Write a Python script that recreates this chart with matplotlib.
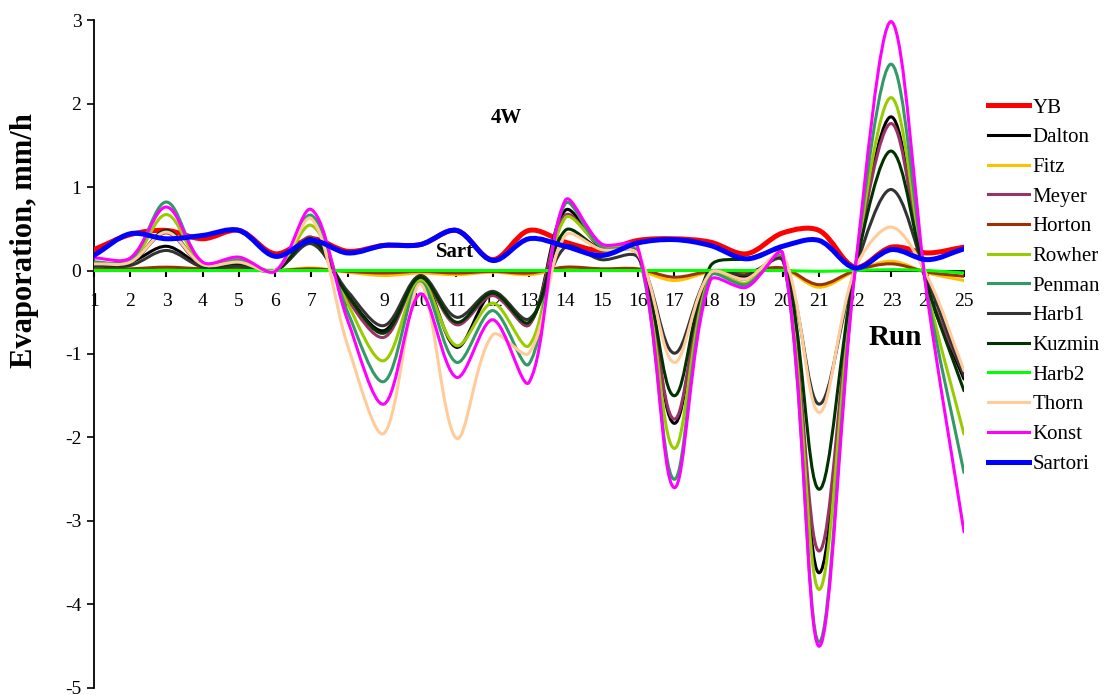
import numpy as np
import matplotlib
matplotlib.use("Agg")
import matplotlib.pyplot as plt
from matplotlib.path import Path
from matplotlib.patches import PathPatch
from matplotlib.lines import Line2D

plt.rcParams['font.family'] = ['Liberation Serif', 'DejaVu Serif']
plt.rcParams['axes.unicode_minus'] = False

# runs 1..25
runs = list(range(1, 26))

YB = [0.25, 0.43, 0.48, 0.38, 0.48, 0.20, 0.38, 0.23, 0.30, 0.31, 0.48, 0.13, 0.48,
      0.34, 0.24, 0.36, 0.38, 0.34, 0.20, 0.45, 0.48, 0.04, 0.28, 0.21, 0.28]
Dalton = [0.07, 0.10, 0.29, 0.06, 0.08, 0.00, 0.35, -0.30, -0.72, -0.08, -0.92, -0.27, -0.65,
          0.72, 0.27, 0.20, -1.83, -0.05, -0.08, 0.15, -3.62, 0.02, 1.84, -0.22, -1.30]
Fitz = [0.01, 0.01, 0.02, 0.01, 0.01, 0.00, 0.03, -0.02, -0.06, -0.03, -0.05, -0.02, -0.05,
        0.02, 0.01, 0.00, -0.12, -0.02, -0.02, 0.02, -0.20, -0.01, 0.11, -0.03, -0.12]
Meyer = [0.08, 0.10, 0.45, 0.06, 0.10, 0.00, 0.40, -0.35, -0.80, -0.10, -0.65, -0.30, -0.65,
         0.66, 0.28, 0.20, -1.78, -0.05, -0.10, 0.15, -3.36, 0.02, 1.76, -0.20, -1.25]
Horton = [0.01, 0.02, 0.04, 0.02, 0.02, 0.00, 0.02, -0.01, -0.03, -0.01, -0.03, -0.01, -0.03,
          0.04, 0.02, 0.02, -0.08, -0.01, -0.01, 0.03, -0.17, 0.00, 0.08, -0.02, -0.07]
Rowher = [0.10, 0.10, 0.67, 0.07, 0.13, 0.00, 0.54, -0.40, -1.08, -0.12, -0.90, -0.39, -0.90,
          0.63, 0.30, 0.22, -2.13, -0.06, -0.15, 0.17, -3.82, 0.02, 2.07, -0.25, -1.96]
Penman = [0.10, 0.12, 0.82, 0.08, 0.12, 0.00, 0.66, -0.50, -1.33, -0.15, -1.10, -0.48, -1.12,
          0.80, 0.28, 0.22, -2.50, -0.07, -0.17, 0.18, -4.45, 0.02, 2.47, -0.30, -2.42]
Harb1 = [0.05, 0.06, 0.24, 0.04, 0.05, 0.00, 0.32, -0.25, -0.66, -0.06, -0.56, -0.25, -0.58,
         0.28, 0.13, 0.16, -0.99, -0.03, -0.05, 0.12, -1.60, 0.02, 0.97, -0.12, -1.26]
Kuzmin = [0.08, 0.09, 0.48, 0.06, 0.09, 0.00, 0.38, -0.30, -0.75, -0.08, -0.62, -0.27, -0.62,
          0.48, 0.25, 0.20, -1.50, 0.05, 0.14, 0.20, -2.62, 0.02, 1.43, -0.20, -1.44]
Harb2 = [0.00, 0.00, 0.00, 0.00, 0.00, 0.00, 0.00, 0.00, 0.00, 0.00, 0.00, 0.00, 0.00,
         0.00, 0.00, 0.00, 0.00, 0.00, 0.00, 0.00, -0.01, 0.00, 0.01, 0.00, -0.03]
Thorn = [0.08, 0.10, 0.46, 0.07, 0.10, 0.00, 0.62, -0.90, -1.95, -0.16, -2.01, -0.77, -0.99,
         0.42, 0.25, 0.20, -1.10, -0.03, -0.10, 0.20, -1.70, 0.02, 0.52, -0.08, -1.20]
Konst = [0.15, 0.15, 0.76, 0.10, 0.16, -0.01, 0.73, -0.60, -1.60, -0.28, -1.28, -0.59, -1.34,
         0.84, 0.32, 0.28, -2.60, -0.12, -0.20, 0.20, -4.50, 0.02, 2.98, -0.36, -3.13]
Sartori = [0.18, 0.44, 0.38, 0.42, 0.48, 0.17, 0.36, 0.21, 0.30, 0.31, 0.48, 0.12, 0.38,
           0.29, 0.18, 0.33, 0.37, 0.30, 0.14, 0.29, 0.36, 0.03, 0.25, 0.13, 0.26]

names = ["YB", "Dalton", "Fitz", "Meyer", "Horton", "Rowher", "Penman",
         "Harb1", "Kuzmin", "Harb2", "Thorn", "Konst", "Sartori"]
series = [YB, Dalton, Fitz, Meyer, Horton, Rowher, Penman,
          Harb1, Kuzmin, Harb2, Thorn, Konst, Sartori]
colors = ["#FF0000", "#000000", "#FFC000", "#993366", "#993300", "#99CC00", "#339966",
          "#333333", "#003300", "#00FF00", "#FFCC99", "#FF00FF", "#0000FF"]
widths = [3.6, 2.2, 2.2, 2.2, 2.2, 2.2, 2.2, 2.2, 2.2, 2.2, 2.2, 2.2, 3.6]


def smooth_path(ax, x, y):
    # excel-like smoothed line: bezier segments, tangent handles weighted
    # by the on-screen length of the neighbouring segments
    p = np.column_stack([x, y]).astype(float)
    px = ax.transData.transform(p)
    n = len(p)
    d = np.hypot(*np.diff(px, axis=0).T)
    c_out = [None] * n
    c_in = [None] * n
    for i in range(n):
        if i == 0:
            c_out[i] = p[0] + (p[1] - p[0]) / 3.0
            continue
        if i == n - 1:
            c_in[i] = p[i] - (p[i] - p[i - 1]) / 3.0
            continue
        t = p[i + 1] - p[i - 1]
        s = d[i - 1] + d[i]
        c_in[i] = p[i] - t * d[i - 1] / s / 3.0
        c_out[i] = p[i] + t * d[i] / s / 3.0
    verts = [p[0]]
    codes = [Path.MOVETO]
    for i in range(n - 1):
        verts += [c_out[i], c_in[i + 1], p[i + 1]]
        codes += [Path.CURVE4] * 3
    return Path(verts, codes)


fig = plt.figure(figsize=(11.07, 6.95), dpi=100)
ax = fig.add_axes([0.0849, 0.0101, 0.7859, 0.9611])
ax.set_xlim(1, 25)
ax.set_ylim(-5, 3)

handles = []
for name, s, c, w in zip(names, series, colors, widths):
    patch = PathPatch(smooth_path(ax, runs, s), fill=False, edgecolor=c, lw=w,
                      zorder=3, capstyle='round', joinstyle='round')
    ax.add_patch(patch)
    handles.append(Line2D([], [], color=c, lw=w))

ax.set_xticks(runs)
ax.set_yticks(range(-5, 4))
ax.spines['top'].set_visible(False)
ax.spines['right'].set_visible(False)
ax.spines['bottom'].set_position(('data', 0))
for sp in ('left', 'bottom'):
    ax.spines[sp].set_linewidth(1.3)
ax.tick_params(axis='x', direction='out', length=4, width=1.5, pad=12, labelsize=14)
ax.tick_params(axis='y', direction='out', length=5, width=1.2, pad=4, labelsize=14)

fig.text(25 / 1107, 1 - 241 / 695, "Evaporation, mm/h", rotation=90,
         ha='center', va='center', fontsize=22, fontweight='bold')
ax.text(23.1, -0.8, "Run", ha='center', va='center', fontsize=21, fontweight='bold')
ax.text(12.37, 1.83, "4W", ha='center', va='center', fontsize=15, fontweight='bold')
ax.text(10.96, 0.22, "Sart", ha='center', va='center', fontsize=15, fontweight='bold')

ax.legend(handles, names, loc='upper left', bbox_to_anchor=(988 / 1107, 1 - 98 / 695),
          bbox_transform=fig.transFigure, frameon=False, fontsize=15,
          handlelength=1.95, handletextpad=0.2, labelspacing=0.485, borderpad=0,
          borderaxespad=0)

fig.savefig("out.png", dpi=100)
